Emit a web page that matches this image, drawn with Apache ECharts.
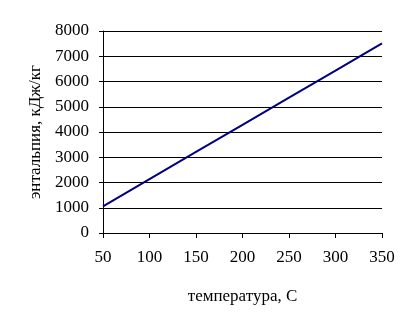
<!DOCTYPE html>
<html>
<head>
<meta charset="utf-8">
<script src="https://cdn.jsdelivr.net/npm/echarts@6/dist/echarts.min.js"></script>
<style>
  html, body { margin: 0; padding: 0; background: #fff; }
  #chart { width: 413px; height: 327px; }
</style>
</head>
<body>
<div id="chart"></div>
<script>
const temperatures = [50, 100, 150, 200, 250, 300, 350];
const enthalpies = [1050, 2130, 3210, 4280, 5360, 6430, 7510];

const chartDom = document.getElementById("chart");
const chart = echarts.init(chartDom);
const font = "Liberation Serif";

const option = {
    backgroundColor: "#fff",
    animation: false,
    grid: {
        left: 103,
        right: 31,
        top: 31,
        bottom: 94,
    },
    xAxis: {
        type: "value",
        min: 50,
        max: 350,
        interval: 50,
        name: "температура, С",
        nameLocation: "middle",
        nameGap: 55,
        nameTextStyle: { fontFamily: font, fontSize: 17, color: "#000" },
        axisLine: { lineStyle: { color: "#000", width: 1 } },
        axisTick: { show: true, length: 5, lineStyle: { color: "#000" } },
        axisLabel: { fontFamily: font, fontSize: 17, color: "#000", margin: 16 },
        splitLine: { show: false },
    },
    yAxis: {
        type: "value",
        min: 0,
        max: 8000,
        interval: 1000,
        name: "энтальпия, кДж/кг",
        nameLocation: "middle",
        nameGap: 53,
        nameTextStyle: { fontFamily: font, fontSize: 17, color: "#000" },
        axisLine: { show: true, lineStyle: { color: "#000", width: 1 } },
        axisTick: { show: true, length: 4, lineStyle: { color: "#000" } },
        axisLabel: {
            fontFamily: font,
            fontSize: 17,
            color: "#000",
            margin: 14,
            formatter: function (v) { return String(v); },
        },
        splitLine: { show: true, lineStyle: { color: "#000", width: 1 } },
    },
    series: [
        {
            type: "line",
            data: temperatures.map((t, i) => [t, enthalpies[i]]),
            showSymbol: false,
            lineStyle: { color: "#000080", width: 2 },
            itemStyle: { color: "#000080" },
        },
    ],
};

chart.setOption(option);
</script>
</body>
</html>
